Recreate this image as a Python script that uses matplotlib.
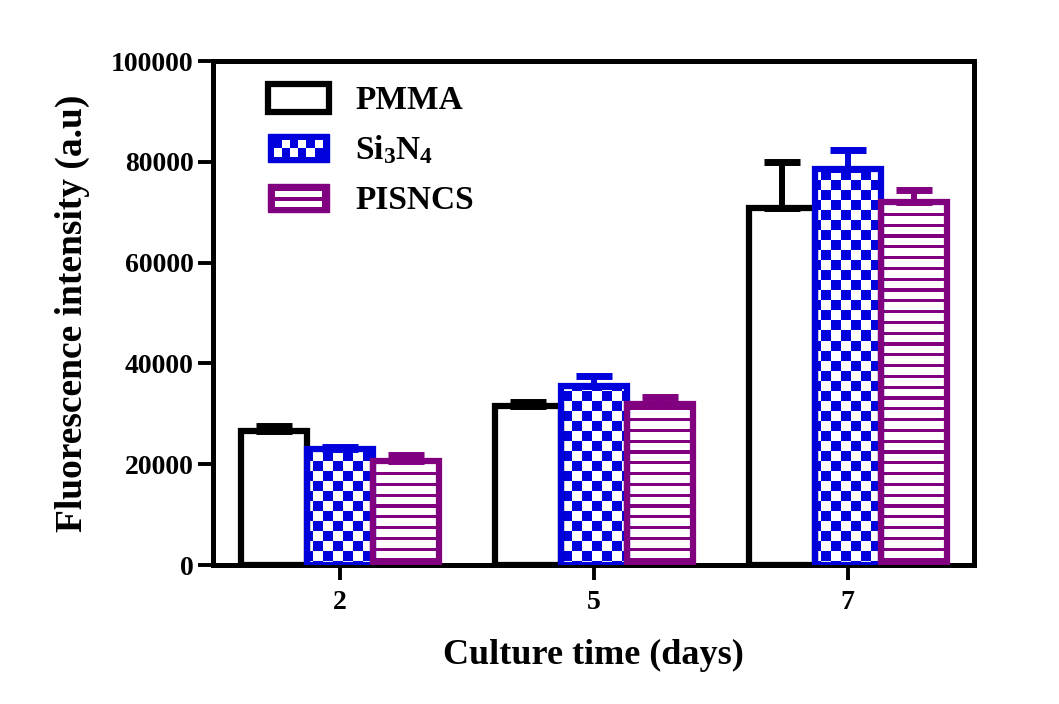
import numpy as np
import matplotlib
matplotlib.use("Agg")
import matplotlib.pyplot as plt
from matplotlib.patches import Rectangle, Patch
from matplotlib.legend_handler import HandlerBase

# ---------------- data ----------------
days = ["2", "5", "7"]
series_names = ["PMMA", "Si$_3$N$_4$", "PISNCS"]
pmma = [26600, 31500, 70800]
pmma_err = [1000, 800, 9200]
si3n4 = [23000, 35500, 78600]
si3n4_err = [400, 2000, 3800]
pisncs = [20600, 31900, 72000]
pisncs_err = [1200, 1400, 2500]
yticks = [0, 20000, 40000, 60000, 80000, 100000]

# ---------------- style ----------------
BLACK = "#000000"
BLUE = "#0000DD"
PURPLE = "#800080"
plt.rcParams["font.family"] = ["Liberation Serif", "DejaVu Serif"]
plt.rcParams["font.weight"] = "bold"
plt.rcParams["mathtext.fontset"] = "custom"
plt.rcParams["mathtext.rm"] = "Liberation Serif:bold"
plt.rcParams["mathtext.bf"] = "Liberation Serif:bold"
plt.rcParams["mathtext.it"] = "Liberation Serif:italic:bold"

fig = plt.figure(figsize=(10.59, 7.04), dpi=100)
ax = fig.add_axes([0.2011, 0.1974, 0.7191, 0.7159])

x = np.arange(len(days))
w = 0.26
offsets = [-w, 0.0, w]
values = [pmma, si3n4, pisncs]
errors = [pmma_err, si3n4_err, pisncs_err]
colors = [BLACK, BLUE, PURPLE]

XLIM = (-0.5, 2.5)
YLIM = (0, 100000)

# pattern images (pixel grid matching the axes)
W, H = 764, 504
ii, jj = np.meshgrid(np.arange(H), np.arange(W), indexing="ij")
def rgba(mask, color):
    c = np.array(matplotlib.colors.to_rgba(color))
    img = np.ones((H, W, 4))
    img[mask] = c
    return img
checker_img = rgba(((ii // 10) + (jj // 10)) % 2 == 0, BLUE)
stripe_img = rgba((ii % 10.8) < 3.2, PURPLE)
patterns = [None, checker_img, stripe_img]

for k in range(3):
    faces = ax.bar(x + offsets[k], values[k], w, color="white",
                   edgecolor="none", zorder=1)
    if patterns[k] is not None:
        for b in faces:
            im = ax.imshow(patterns[k], extent=(XLIM[0], XLIM[1], YLIM[0], YLIM[1]),
                           origin="upper", aspect="auto", interpolation="nearest",
                           zorder=1.5)
            im.set_clip_path(b)

for k in range(3):
    ax.errorbar(x + offsets[k], values[k],
                yerr=[np.zeros(len(days)), errors[k]], fmt="none",
                ecolor=colors[k], elinewidth=4.3, capsize=13, capthick=5,
                zorder=2.5)
    ax.bar(x + offsets[k], values[k], w, fill=False, edgecolor=colors[k],
           linewidth=4.5, zorder=3)

ax.set_xlim(*XLIM)
ax.set_ylim(*YLIM)
ax.set_xticks(x)
ax.set_xticklabels(days)
ax.set_yticks(yticks)
ax.set_yticklabels([str(v) for v in yticks])

for s in ax.spines.values():
    s.set_linewidth(3.6)
ax.tick_params(axis="both", direction="out", length=11, width=2.8,
               labelsize=20, pad=3)
ax.tick_params(axis="x", pad=7)
for lab in ax.get_xticklabels() + ax.get_yticklabels():
    lab.set_fontweight("bold")

ax.set_xlabel("Culture time (days)", fontsize=26, fontweight="bold", labelpad=17)
ax.set_ylabel("Fluorescence intensity (a.u)", fontsize=27, fontweight="bold",
              labelpad=15)

# ---------------- legend ----------------
class HandlerChecker(HandlerBase):
    def create_artists(self, legend, orig_handle, xdescent, ydescent,
                       width, height, fontsize, trans):
        x0, y0 = -xdescent, -ydescent
        arts = [Rectangle((x0, y0), width, height, facecolor=BLUE,
                          edgecolor=BLUE, lw=1, transform=trans)]
        ncol, nrow = 6, 2
        ix, iy = width * 0.1, height * 0.2
        cw, ch = (width - 2 * ix) / ncol, (height - 2 * iy) / nrow
        for r in range(nrow):
            for c in range(ncol):
                if (r + c) % 2 == 0:
                    arts.append(Rectangle((x0 + ix + c * cw, y0 + iy + r * ch),
                                          cw, ch, facecolor="white",
                                          edgecolor="none", transform=trans))
        return arts

class HandlerStripes(HandlerBase):
    def create_artists(self, legend, orig_handle, xdescent, ydescent,
                       width, height, fontsize, trans):
        x0, y0 = -xdescent, -ydescent
        arts = [Rectangle((x0, y0), width, height, facecolor=PURPLE,
                          edgecolor=PURPLE, lw=1, transform=trans)]
        ix = width * 0.11
        for lo, hi in [(0.19, 0.39), (0.52, 0.74)]:
            arts.append(Rectangle((x0 + ix, y0 + lo * height), width - 2 * ix,
                                  (hi - lo) * height, facecolor="white",
                                  edgecolor="none", transform=trans))
        return arts

h_pmma = Patch(facecolor="white", edgecolor=BLACK, linewidth=4.5)
h_si = Patch(facecolor=BLUE)
h_pis = Patch(facecolor=PURPLE)
leg = ax.legend([h_pmma, h_si, h_pis], series_names,
                handler_map={h_si: HandlerChecker(), h_pis: HandlerStripes()},
                loc="upper left", bbox_to_anchor=(0.072, 0.955),
                frameon=False, fontsize=24, borderpad=0, borderaxespad=0,
                handlelength=1.83, handleheight=0.93, handletextpad=0.8,
                labelspacing=0.52)
for t in leg.get_texts():
    t.set_fontweight("bold")

fig.savefig("out.png", dpi=100, facecolor="white")
